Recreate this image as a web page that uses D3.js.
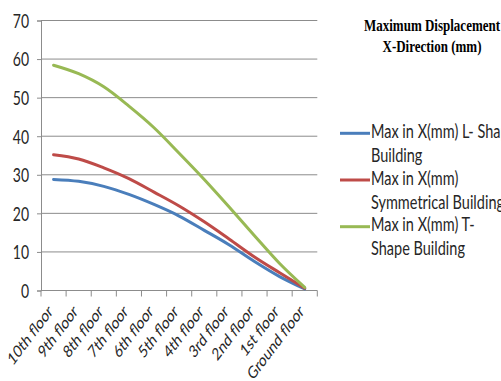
<!DOCTYPE html>
<html>
<head>
<meta charset="utf-8">
<script src="https://cdn.jsdelivr.net/npm/d3@7"></script>
<style>
  html, body { margin: 0; padding: 0; background: #fff; }
  svg { display: block; }
  text { font-family: Lato, "Open Sans", sans-serif; fill: #262626; }
  text.title { font-family: "Liberation Serif", "Times New Roman", serif; font-weight: bold; fill: #000; }
</style>
</head>
<body>
<svg id="chart" width="501" height="381"></svg>
<script>
// Floors, from top of the building down to ground level
const categories = ["10th floor", "9th floor", "8th floor", "7th floor", "6th floor",
  "5th floor", "4th floor", "3rd floor", "2nd floor", "1st floor", "Ground floor"];

// Maximum displacement in X direction (mm) per floor
const lShape      = [28.8, 28.3, 27.0, 24.9, 22.3, 19.3, 15.6, 11.8, 7.5, 3.6, 0.4];
const symmetrical = [35.2, 34.1, 31.8, 29.0, 25.5, 21.9, 17.8, 13.3, 8.7, 4.6, 0.6];
const tShape      = [58.4, 56.2, 52.8, 47.8, 42.2, 35.6, 28.8, 21.6, 14.2, 7.0, 0.8];

const yTicks = [0, 10, 20, 30, 40, 50, 60, 70];

const seriesLabels = [
  ["Max in X(mm) L- Shape", "Building"],
  ["Max in X(mm)", "Symmetrical Building"],
  ["Max in X(mm) T-", "Shape Building"]
];
const seriesColors = ["#4A7EBB", "#BE4B48", "#98B954"];
const titleLines = ["Maximum Displacement", "X-Direction (mm)"];

const series = [lShape, symmetrical, tShape];

// text is drawn slightly taller than wide
const S = 1.32;

const svg = d3.select("#chart");
const plot = { left: 41, right: 317.3, top: 20.5, bottom: 290.5 };

const xBand = d3.scaleBand().domain(categories).range([plot.left, plot.right]);
const x = d => xBand(d) + xBand.bandwidth() / 2;
const y = d3.scaleLinear().domain([0, 70]).range([plot.bottom, plot.top]);

// horizontal gridlines
svg.append("g")
  .selectAll("line")
  .data(yTicks.filter(v => v > 0))
  .join("line")
  .attr("x1", plot.left).attr("x2", plot.right)
  .attr("y1", d => y(d)).attr("y2", d => y(d))
  .attr("stroke", "#8c8c8c").attr("stroke-width", 1);

// y axis
const yAxis = svg.append("g")
  .attr("transform", `translate(${plot.left},0)`)
  .call(d3.axisLeft(y).tickValues(yTicks).tickSize(4).tickFormat(""));
yAxis.select(".domain").attr("stroke", "#8c8c8c");
yAxis.selectAll(".tick line").attr("stroke", "#8c8c8c");

svg.append("g")
  .selectAll("g")
  .data(yTicks)
  .join("g")
  .attr("transform", d => `translate(29,${y(d) + 7.4}) scale(1,${S})`)
  .append("text")
  .attr("text-anchor", "end")
  .attr("font-size", 14)
  .text(d => d);

// x axis line and tick marks at category boundaries
svg.append("line")
  .attr("x1", plot.left).attr("x2", plot.right)
  .attr("y1", y(0)).attr("y2", y(0))
  .attr("stroke", "#8c8c8c");
const bounds = categories.map(c => xBand(c)).concat([xBand.range()[1]]);
svg.append("g")
  .selectAll("line")
  .data(bounds)
  .join("line")
  .attr("x1", d => d).attr("x2", d => d)
  .attr("y1", y(0)).attr("y2", y(0) + 6)
  .attr("stroke", "#8c8c8c");

// rotated category labels
svg.append("g")
  .selectAll("g")
  .data(categories)
  .join("g")
  .attr("transform", d => `translate(${x(d)},312.5) scale(1,${S}) rotate(-45)`)
  .append("text")
  .attr("text-anchor", "end")
  .attr("font-size", 13)
  .text(d => d);

// series lines
const line = d3.line()
  .x((d, i) => x(categories[i]))
  .y(d => y(d))
  .curve(d3.curveCatmullRom.alpha(0));

svg.append("g")
  .selectAll("path")
  .data(series)
  .join("path")
  .attr("d", d => line(d))
  .attr("fill", "none")
  .attr("stroke", (d, i) => seriesColors[i])
  .attr("stroke-width", 3)
  .attr("stroke-linejoin", "round")
  .attr("stroke-linecap", "round");

// title
svg.append("g")
  .selectAll("g")
  .data(titleLines)
  .join("g")
  .attr("transform", (d, i) => `translate(432,${30.7 + i * 21.6}) scale(1,${S})`)
  .append("text")
  .attr("class", "title")
  .attr("text-anchor", "middle")
  .attr("font-size", 13)
  .text(d => d);

// legend
const legendY = [133.3, 180, 226.7];
const legend = svg.append("g")
  .selectAll("g")
  .data(seriesLabels)
  .join("g")
  .attr("transform", (d, i) => `translate(0,${legendY[i]})`);

legend.append("line")
  .attr("x1", 340).attr("x2", 370)
  .attr("y1", 0).attr("y2", 0)
  .attr("stroke", (d, i) => seriesColors[i])
  .attr("stroke-width", 3);

legend.each(function(lines) {
  d3.select(this).selectAll("g.lbl")
    .data(lines)
    .join("g")
    .attr("class", "lbl")
    .attr("transform", (d, j) => `translate(371,${4.7 + j * 24}) scale(1,${S})`)
    .append("text")
    .attr("font-size", 14.5)
    .text(d => d);
});
</script>
</body>
</html>
